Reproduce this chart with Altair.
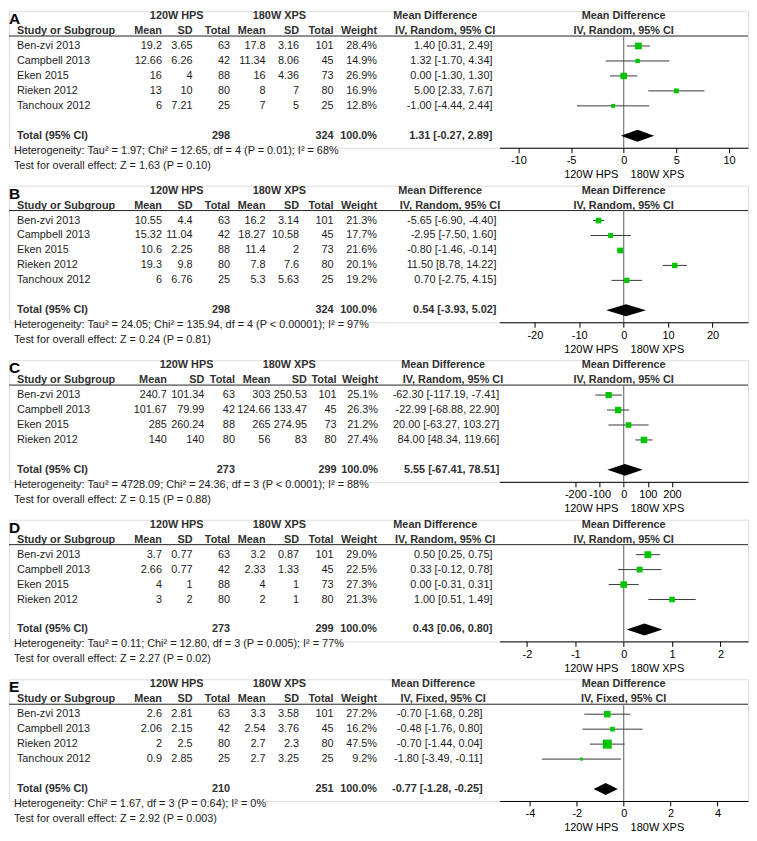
import altair as alt
import pandas as pd

# ------------------------------------------------------------------ data
A_study = ["Ben-zvi 2013", "Campbell 2013", "Eken 2015", "Rieken 2012", "Tanchoux 2012"]
A_m1 = [19.2, 12.66, 16, 13, 6]
A_sd1 = [3.65, 6.26, 4, 10, 7.21]
A_n1 = [63, 42, 88, 80, 25]
A_m2 = [17.8, 11.34, 16, 8, 7]
A_sd2 = [3.16, 8.06, 4.36, 7, 5]
A_n2 = [101, 45, 73, 80, 25]
A_w = [28.4, 14.9, 26.9, 16.9, 12.8]
A_md = [1.40, 1.32, 0.00, 5.00, -1.00]
A_lo = [0.31, -1.70, -1.30, 2.33, -4.44]
A_hi = [2.49, 4.34, 1.30, 7.67, 2.44]
A_tot = [298, 324, 1.31, -0.27, 2.89]
A_het = "Heterogeneity: Tau\u00b2 = 1.97; Chi\u00b2 = 12.65, df = 4 (P = 0.01); I\u00b2 = 68%"
A_test = "Test for overall effect: Z = 1.63 (P = 0.10)"
A_ticks = [-10, -5, 0, 5, 10]

B_study = ["Ben-zvi 2013", "Campbell 2013", "Eken 2015", "Rieken 2012", "Tanchoux 2012"]
B_m1 = [10.55, 15.32, 10.6, 19.3, 6]
B_sd1 = [4.4, 11.04, 2.25, 9.8, 6.76]
B_n1 = [63, 42, 88, 80, 25]
B_m2 = [16.2, 18.27, 11.4, 7.8, 5.3]
B_sd2 = [3.14, 10.58, 2, 7.6, 5.63]
B_n2 = [101, 45, 73, 80, 25]
B_w = [21.3, 17.7, 21.6, 20.1, 19.2]
B_md = [-5.65, -2.95, -0.80, 11.50, 0.70]
B_lo = [-6.90, -7.50, -1.46, 8.78, -2.75]
B_hi = [-4.40, 1.60, -0.14, 14.22, 4.15]
B_tot = [298, 324, 0.54, -3.93, 5.02]
B_het = "Heterogeneity: Tau\u00b2 = 24.05; Chi\u00b2 = 135.94, df = 4 (P < 0.00001); I\u00b2 = 97%"
B_test = "Test for overall effect: Z = 0.24 (P = 0.81)"
B_ticks = [-20, -10, 0, 10, 20]

C_study = ["Ben-zvi 2013", "Campbell 2013", "Eken 2015", "Rieken 2012"]
C_m1 = [240.7, 101.67, 285, 140]
C_sd1 = [101.34, 79.99, 260.24, 140]
C_n1 = [63, 42, 88, 80]
C_m2 = [303, 124.66, 265, 56]
C_sd2 = [250.53, 133.47, 274.95, 83]
C_n2 = [101, 45, 73, 80]
C_w = [25.1, 26.3, 21.2, 27.4]
C_md = [-62.30, -22.99, 20.00, 84.00]
C_lo = [-117.19, -68.88, -63.27, 48.34]
C_hi = [-7.41, 22.90, 103.27, 119.66]
C_tot = [273, 299, 5.55, -67.41, 78.51]
C_het = "Heterogeneity: Tau\u00b2 = 4728.09; Chi\u00b2 = 24.36, df = 3 (P < 0.0001); I\u00b2 = 88%"
C_test = "Test for overall effect: Z = 0.15 (P = 0.88)"
C_ticks = [-200, -100, 0, 100, 200]

D_study = ["Ben-zvi 2013", "Campbell 2013", "Eken 2015", "Rieken 2012"]
D_m1 = [3.7, 2.66, 4, 3]
D_sd1 = [0.77, 0.77, 1, 2]
D_n1 = [63, 42, 88, 80]
D_m2 = [3.2, 2.33, 4, 2]
D_sd2 = [0.87, 1.33, 1, 1]
D_n2 = [101, 45, 73, 80]
D_w = [29.0, 22.5, 27.3, 21.3]
D_md = [0.50, 0.33, 0.00, 1.00]
D_lo = [0.25, -0.12, -0.31, 0.51]
D_hi = [0.75, 0.78, 0.31, 1.49]
D_tot = [273, 299, 0.43, 0.06, 0.80]
D_het = "Heterogeneity: Tau\u00b2 = 0.11; Chi\u00b2 = 12.80, df = 3 (P = 0.005); I\u00b2 = 77%"
D_test = "Test for overall effect: Z = 2.27 (P = 0.02)"
D_ticks = [-2, -1, 0, 1, 2]

E_study = ["Ben-zvi 2013", "Campbell 2013", "Rieken 2012", "Tanchoux 2012"]
E_m1 = [2.6, 2.06, 2, 0.9]
E_sd1 = [2.81, 2.15, 2.5, 2.85]
E_n1 = [63, 42, 80, 25]
E_m2 = [3.3, 2.54, 2.7, 2.7]
E_sd2 = [3.58, 3.76, 2.3, 3.25]
E_n2 = [101, 45, 80, 25]
E_w = [27.2, 16.2, 47.5, 9.2]
E_md = [-0.70, -0.48, -0.70, -1.80]
E_lo = [-1.68, -1.76, -1.44, -3.49]
E_hi = [0.28, 0.80, 0.04, -0.11]
E_tot = [210, 251, -0.77, -1.28, -0.25]
E_het = "Heterogeneity: Chi\u00b2 = 1.67, df = 3 (P = 0.64); I\u00b2 = 0%"
E_test = "Test for overall effect: Z = 2.92 (P = 0.003)"
E_ticks = [-4, -2, 0, 2, 4]

GROUP1 = "120W HPS"
GROUP2 = "180W XPS"

# ------------------------------------------------------------------ layout / style
PLOT_W = 741
FONT = "Liberation Sans"
FS = 10.9
TXT = "#1c1c1c"
HDR = "#303030"
GREEN = "#00c400"
ROW0 = 35
ROWH = 15
SPACING = 38


def px(v):
    # map a reference-page x position to a chart x position
    return max(0.0, (v - 8) * PLOT_W / 749)


def fmt(v):
    return f"{v:g}"


STD_COLS = dict(m1=163, sd1=194, n1=232, m2=268, sd2=302, n2=337, w=381, g1=178, g2=282)

PANELS = [
    dict(letter="A", study=A_study, m1=A_m1, sd1=A_sd1, n1=A_n1, m2=A_m2, sd2=A_sd2, n2=A_n2,
         w=A_w, md=A_md, lo=A_lo, hi=A_hi, tot=A_tot, het=A_het, test=A_test, ticks=A_ticks,
         dom=11.8, method="IV, Random, 95% CI", cols=dict(STD_COLS, ci=498, mdh=440)),
    dict(letter="B", study=B_study, m1=B_m1, sd1=B_sd1, n1=B_n1, m2=B_m2, sd2=B_sd2, n2=B_n2,
         w=B_w, md=B_md, lo=B_lo, hi=B_hi, tot=B_tot, het=B_het, test=B_test, ticks=B_ticks,
         dom=28.0, method="IV, Random, 95% CI", cols=dict(STD_COLS, ci=502, mdh=445)),
    dict(letter="C", study=C_study, m1=C_m1, sd1=C_sd1, n1=C_n1, m2=C_m2, sd2=C_sd2, n2=C_n2,
         w=C_w, md=C_md, lo=C_lo, hi=C_hi, tot=C_tot, het=C_het, test=C_test, ticks=C_ticks,
         dom=515.0, method="IV, Random, 95% CI",
         cols=dict(m1=168, sd1=206, n1=237, m2=273, sd2=310, n2=340, w=382, ci=505,
                   g1=188, g2=292, mdh=448)),
    dict(letter="D", study=D_study, m1=D_m1, sd1=D_sd1, n1=D_n1, m2=D_m2, sd2=D_sd2, n2=D_n2,
         w=D_w, md=D_md, lo=D_lo, hi=D_hi, tot=D_tot, het=D_het, test=D_test, ticks=D_ticks,
         dom=2.57, method="IV, Random, 95% CI", cols=dict(STD_COLS, ci=498, mdh=440)),
    dict(letter="E", study=E_study, m1=E_m1, sd1=E_sd1, n1=E_n1, m2=E_m2, sd2=E_sd2, n2=E_n2,
         w=E_w, md=E_md, lo=E_lo, hi=E_hi, tot=E_tot, het=E_het, test=E_test, ticks=E_ticks,
         dom=5.3, method="IV, Fixed, 95% CI", cols=dict(STD_COLS, ci=488, mdh=438)),
]

ONE = pd.DataFrame({"k": [0]})


def build_panel(p):
    n = len(p["study"])
    rt = n + 1
    H = ROW0 + rt * ROWH + 12
    c = p["cols"]
    yscale = alt.Scale(domain=[0, 1], range=[ROW0, ROW0 + ROWH], zero=False, nice=False)
    D = p["dom"]
    xscale = alt.Scale(domain=[-D, D], range=[px(505), px(757)], zero=False, nice=False)
    xaxis = alt.Axis(values=p["ticks"], title="120W HPS\u00a0\u00a0\u00a0\u00a0180W XPS", grid=False,
                     domainColor="black", tickColor="black", tickSize=5, labelFontSize=11,
                     titleFontSize=11, titleFontWeight="normal", labelPadding=2, titlePadding=3,
                     labelColor="black", titleColor="black", labelFont=FONT, titleFont=FONT,
                     labelExpr="replace(datum.label, '\u2212', '-')")

    def Y(field):
        return alt.Y(field, scale=yscale, axis=None)

    def X(field):
        return alt.X(field, scale=xscale, axis=xaxis)

    df = pd.DataFrame({
        "r": list(range(n)),
        "study": p["study"],
        "m1": [fmt(v) for v in p["m1"]],
        "sd1": [fmt(v) for v in p["sd1"]],
        "n1": [str(v) for v in p["n1"]],
        "m2": [fmt(v) for v in p["m2"]],
        "sd2": [fmt(v) for v in p["sd2"]],
        "n2": [str(v) for v in p["n2"]],
        "wtxt": [f"{v:.1f}%" for v in p["w"]],
        "ci": [f"{m:.2f} [{l:.2f}, {h:.2f}]" for m, l, h in zip(p["md"], p["lo"], p["hi"])],
        "md": p["md"], "lo": p["lo"], "hi": p["hi"], "wt": p["w"],
    })

    t_n1, t_n2, t_md, t_lo, t_hi = p["tot"]
    dia = pd.DataFrame({
        "x": [t_lo, t_md, t_hi],
        "yt": [rt, rt - 0.4, rt],
        "yb": [rt, rt + 0.4, rt],
    })

    layers = []
    # header underline
    layers.append(alt.Chart(ONE).mark_rule(color="#222", strokeWidth=1).encode(
        x=alt.value(px(5)), x2=alt.value(PLOT_W),
        y=alt.YDatum(-0.667, scale=yscale, axis=None)))
    # zero line
    layers.append(alt.Chart(ONE).mark_rule(color="#7a7a7a", strokeWidth=1.2).encode(
        x=alt.XDatum(0, scale=xscale, axis=xaxis),
        y=alt.YDatum(-0.667, scale=yscale, axis=None), y2=alt.value(H)))
    # CI lines
    layers.append(alt.Chart(df).mark_rule(color="#3a3a3a", strokeWidth=1).encode(
        x=X("lo:Q"), x2="hi:Q", y=Y("r:Q")))
    # squares
    layers.append(alt.Chart(df).mark_square(color=GREEN, opacity=1).encode(
        x=X("md:Q"), y=Y("r:Q"),
        size=alt.Size("wt:Q", scale=alt.Scale(domain=[9.2, 47.5], range=[9, 81]), legend=None)))
    # pooled diamond
    layers.append(alt.Chart(dia).mark_area(color="black", orient="vertical", opacity=1).encode(
        x=X("x:Q"), y=alt.Y("yt:Q", scale=yscale, axis=None, stack=None), y2="yb:Q"))

    def label(text, x, r, align="left", bold=False, size=FS, color=TXT):
        return alt.Chart(ONE).mark_text(
            text=text, align=align, baseline="middle", fontSize=size, font=FONT,
            fontWeight="bold" if bold else "normal", color=color).encode(
            x=alt.value(px(x)), y=alt.YDatum(r, scale=yscale, axis=None))

    def zlabel(text, r):
        return alt.Chart(ONE).mark_text(
            text=text, align="center", baseline="middle", fontSize=FS, font=FONT,
            fontWeight="bold", color=HDR).encode(
            x=alt.XDatum(0, scale=xscale, axis=xaxis), y=alt.YDatum(r, scale=yscale, axis=None))

    def col(field, x, align="right"):
        return alt.Chart(df).mark_text(
            align=align, baseline="middle", fontSize=FS, font=FONT, color=TXT).encode(
            x=alt.value(px(x)), y=Y("r:Q"), text=f"{field}:N")

    # panel letter
    layers.append(label(p["letter"], 0, (8 - ROW0) / ROWH, bold=True, size=15.5, color="black"))
    # group headers
    layers.append(label(GROUP1, c["g1"], -2, align="center", bold=True, color=HDR))
    layers.append(label(GROUP2, c["g2"], -2, align="center", bold=True, color=HDR))
    layers.append(label("Mean Difference", c["mdh"], -2, align="center", bold=True, color=HDR))
    layers.append(zlabel("Mean Difference", -2))
    # column headers
    layers.append(label("Study or Subgroup", 16, -1, bold=True, color=HDR))
    for key, name in [("m1", "Mean"), ("sd1", "SD"), ("n1", "Total"), ("m2", "Mean"),
                      ("sd2", "SD"), ("n2", "Total"), ("w", "Weight")]:
        layers.append(label(name, c[key], -1, align="right", bold=True, color=HDR))
    layers.append(label(p["method"], c["mdh"] + 10, -1, align="center", bold=True, color=HDR))
    layers.append(zlabel(p["method"], -1))
    # study rows
    layers.append(col("study", 16, align="left"))
    for key in ["m1", "sd1", "n1", "m2", "sd2", "n2"]:
        layers.append(col(key, c[key]))
    layers.append(col("wtxt", c["w"]))
    layers.append(col("ci", c["ci"]))
    # total row
    layers.append(label("Total (95% CI)", 16, rt, bold=True, color=HDR))
    layers.append(label(str(t_n1), c["n1"], rt, align="right", bold=True, color=HDR))
    layers.append(label(str(t_n2), c["n2"], rt, align="right", bold=True, color=HDR))
    layers.append(label("100.0%", c["w"], rt, align="right", bold=True, color=HDR))
    layers.append(label(f"{t_md:.2f} [{t_lo:.2f}, {t_hi:.2f}]", c["ci"], rt, align="right",
                        bold=True, color=HDR))
    # heterogeneity / test lines
    layers.append(label(p["het"], 13, rt + 1))
    layers.append(label(p["test"], 13, rt + 2))

    return alt.layer(*layers).properties(width=PLOT_W, height=H)


chart = alt.vconcat(*[build_panel(p) for p in PANELS], spacing=SPACING, bounds="flush").properties(
    padding=0
).configure_view(stroke=None).configure(font=FONT)

chart.save("out.html", embed_options={"renderer": "svg", "actions": False})
